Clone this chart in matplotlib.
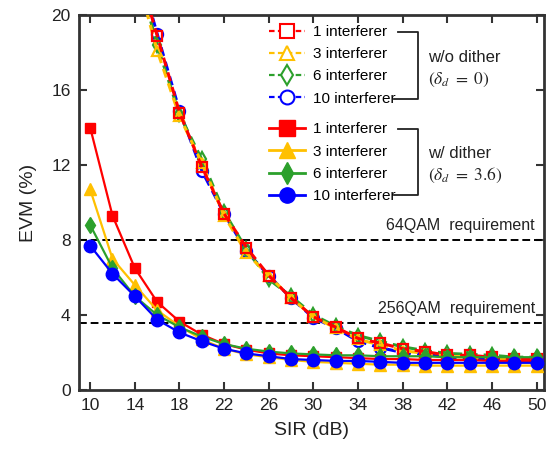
import matplotlib
matplotlib.use("Agg")
import matplotlib.pyplot as plt
from matplotlib.lines import Line2D

plt.rcParams['font.family'] = ['Liberation Sans', 'DejaVu Sans']
plt.rcParams['mathtext.fontset'] = 'stix'

# ---- data ----
sir_nodither = [14, 16, 18, 20, 22, 24, 26, 28, 30, 32, 34, 36, 38, 40, 42, 44, 46, 48, 50]
evm_nd_1 = [23.0, 18.9, 14.8, 11.9, 9.4, 7.6, 6.1, 4.9, 3.9, 3.35, 2.75, 2.5, 2.2, 2.05, 1.85, 1.85, 1.75, 1.65, 1.65]
evm_nd_3 = [22.5, 18.1, 14.6, 12.1, 9.3, 7.3, 6.1, 4.9, 3.9, 3.3, 2.7, 2.4, 2.1, 1.95, 1.8, 1.75, 1.7, 1.6, 1.6]
evm_nd_6 = [22.8, 18.4, 14.7, 12.3, 9.5, 7.5, 5.9, 5.0, 4.0, 3.4, 2.9, 2.6, 2.3, 2.1, 1.95, 1.9, 1.85, 1.75, 1.75]
evm_nd_10 = [23.2, 19.0, 14.9, 11.7, 9.4, 7.4, 6.1, 4.9, 3.85, 3.3, 2.6, 2.25, 2.0, 1.9, 1.75, 1.7, 1.65, 1.6, 1.65]

sir_dither = [10, 12, 14, 16, 18, 20, 22, 24, 26, 28, 30, 32, 34, 36, 38, 40, 42, 44, 46, 48, 50]
evm_d_1 = [14.0, 9.3, 6.5, 4.7, 3.65, 2.95, 2.45, 2.15, 1.95, 1.85, 1.8, 1.75, 1.7, 1.65, 1.65, 1.6, 1.6, 1.6, 1.55, 1.55, 1.55]
evm_d_3 = [10.7, 7.0, 5.6, 4.25, 3.4, 2.7, 2.2, 1.9, 1.75, 1.6, 1.5, 1.45, 1.4, 1.35, 1.35, 1.3, 1.3, 1.3, 1.3, 1.3, 1.3]
evm_d_6 = [8.8, 6.5, 5.0, 4.0, 3.35, 2.85, 2.45, 2.2, 2.05, 1.95, 1.9, 1.85, 1.85, 1.8, 1.8, 1.8, 1.75, 1.75, 1.75, 1.75, 1.75]
evm_d_10 = [7.7, 6.2, 5.0, 3.75, 3.07, 2.6, 2.2, 1.95, 1.8, 1.65, 1.6, 1.55, 1.55, 1.5, 1.45, 1.45, 1.45, 1.45, 1.45, 1.45, 1.45]

labels = ['1 interferer', '3 interferer', '6 interferer', '10 interferer']
colors = ['#FF0000', '#FFC000', '#2CA02C', '#0000FF']
markers = ['s', '^', 'd', 'o']
msizes_open = [6.5, 7.5, 7.5, 8]
msizes_fill = [7, 9, 8, 9]

req_64 = 8.0
req_256 = 3.6

xticks = list(range(10, 51, 4))
yticks = [0, 4, 8, 12, 16, 20]

# ---- figure ----
fig = plt.figure(figsize=(5.5, 4.51), dpi=100)
ax = fig.add_axes([79/550, 1-390/451, 465/550, 375/451])

nd_sets = [evm_nd_1, evm_nd_3, evm_nd_6, evm_nd_10]
d_sets = [evm_d_1, evm_d_3, evm_d_6, evm_d_10]

nd_handles = [None]*4
for i in [3, 2, 1, 0]:
    ax.plot(sir_nodither, nd_sets[i], color=colors[i], linestyle=(i*1.2, (3, 2)),
            lw=2.2, marker=markers[i], ms=msizes_open[i], mfc='none',
            mec=colors[i], mew=1.6, zorder=3 + (3-i)*0.1)
    nd_handles[i] = Line2D([], [], color=colors[i], linestyle=(0, (2.5, 1.5)), lw=1.6,
                           marker=markers[i], ms=10, mfc='white', mec=colors[i], mew=1.5)

d_handles = [None]*4
for i in [0, 1, 2, 3]:
    ax.plot(sir_dither, d_sets[i], color=colors[i], linestyle='-', lw=1.6,
            marker=markers[i], ms=msizes_fill[i], mfc=colors[i], mec=colors[i], zorder=4 + i*0.1)
    d_handles[i] = Line2D([], [], color=colors[i], linestyle='-', lw=2.0,
                          marker=markers[i], ms=11, mfc=colors[i], mec=colors[i])

ax.axhline(req_64, color='black', lw=1.4, linestyle=(0, (4, 2)), zorder=2)
ax.axhline(req_256, color='black', lw=1.4, linestyle=(0, (4, 2)), zorder=2)
ax.text(49.85, req_64 + 0.35, '64QAM  requirement', ha='right', va='bottom', fontsize=11.5, color='#222222')
ax.text(49.85, req_256 + 0.35, '256QAM  requirement', ha='right', va='bottom', fontsize=11.5, color='#222222')

ax.set_xlim(9.0, 50.65)
ax.set_ylim(0, 20)
ax.set_xticks(xticks)
ax.set_yticks(yticks)
ax.tick_params(direction='in', top=True, right=True, length=6, width=1.5, labelsize=12.5,
               colors='#333333', labelcolor='#222222', pad=6)
for s in ax.spines.values():
    s.set_linewidth(2.0)
    s.set_color('#333333')

ax.set_xlabel('SIR (dB)', fontsize=14, color='#222222', labelpad=6)
ax.set_ylabel('EVM (%)', fontsize=14, color='#222222', labelpad=10)

leg1 = ax.legend(nd_handles, labels, loc='upper left', bbox_to_anchor=(0.395, 0.99),
                 frameon=False, fontsize=11, handlelength=2.4, handletextpad=0.5,
                 labelspacing=0.54, borderaxespad=0)
ax.add_artist(leg1)
leg2 = ax.legend(d_handles, labels, loc='upper left', bbox_to_anchor=(0.395, 0.73),
                 frameon=False, fontsize=11, handlelength=2.4, handletextpad=0.5,
                 labelspacing=0.54, borderaxespad=0)

# brackets
tr = ax.transAxes
for (ytop, ybot) in [(0.955, 0.776), (0.696, 0.52)]:
    ax.plot([0.686, 0.729, 0.729, 0.678], [ytop, ytop, ybot, ybot], color='#222222',
            lw=1.3, transform=tr, clip_on=False, zorder=6)

ax.text(0.75, 0.888, 'w/o dither', transform=tr, fontsize=12, va='center', ha='left', color='#222222')
ax.text(0.75, 0.827, r'$(\delta_d\ =\ 0)$', transform=tr, fontsize=12.5, va='center', ha='left', color='#222222')
ax.text(0.75, 0.632, 'w/ dither', transform=tr, fontsize=12, va='center', ha='left', color='#222222')
ax.text(0.75, 0.573, r'$(\delta_d\ =\ 3.6)$', transform=tr, fontsize=12.5, va='center', ha='left', color='#222222')

fig.savefig('out.png', dpi=100)
